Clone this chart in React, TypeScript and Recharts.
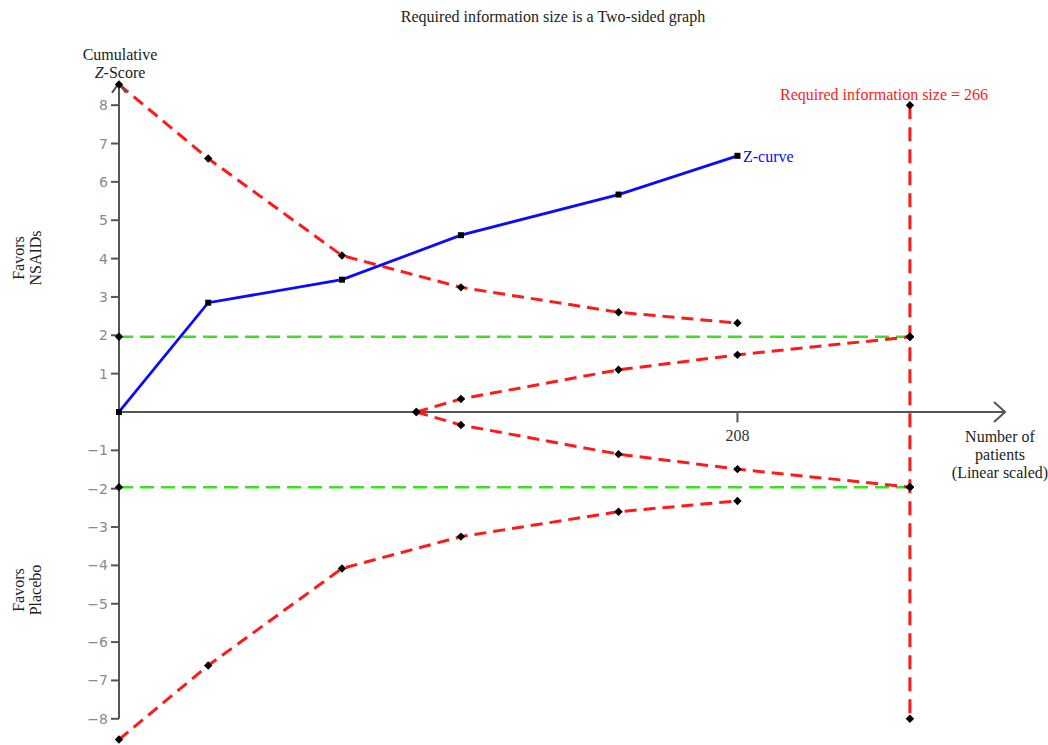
import { ComposedChart, Line, XAxis, YAxis, ReferenceLine, ReferenceDot } from "recharts";

// patients (linear scaled) where each interim analysis sits
const looks = [0, 30, 75, 115, 168, 208];
const zCurve = [0, 2.85, 3.45, 4.61, 5.67, 6.68];
const upperBound = [8.54, 6.61, 4.08, 3.25, 2.6, 2.32];
const lowerBound = [-8.54, -6.61, -4.08, -3.25, -2.6, -2.32];

const futilityX = [100, 115, 168, 208, 266];
const futilityUpper = [0, 0.34, 1.1, 1.49, 1.96];
const futilityLower = [0, -0.34, -1.1, -1.49, -1.96];

const ris = 266;
const risZ = [8, 1.96, -1.96, -8];
const conventional = 1.96;
const xTicks = [208];
const yTicks = [-8, -7, -6, -5, -4, -3, -2, -1, 1, 2, 3, 4, 5, 6, 7, 8];

const zip = (xs: number[], ys: number[]) => xs.map((x, i) => ({ x, z: ys[i] }));

const zData = zip(looks, zCurve);
const upperData = zip(looks, upperBound);
const lowerData = zip(looks, lowerBound);
const futUpData = zip(futilityX, futilityUpper);
const futLoData = zip(futilityX, futilityLower);
const risData = risZ.map((z) => ({ x: ris, z }));
const greenUp = [{ x: 0, z: conventional }, { x: ris, z: conventional }];
const greenLo = [{ x: 0, z: -conventional }, { x: ris, z: -conventional }];

const RED = "#ff1a1a";
const GREEN = "#3fe024";
const BLUE = "#0a0aff";
const AXIS = "#555";
const SERIF = "'Liberation Serif', 'DejaVu Serif', serif";

function diamond(p: any) {
  const { cx, cy, index } = p;
  if (cx == null || cy == null) return <g key={`n-${index}`} />;
  const r = 4.2;
  return (
    <path
      key={`d-${index}-${cx}-${cy}`}
      d={`M${cx},${cy - r}L${cx + r},${cy}L${cx},${cy + r}L${cx - r},${cy}Z`}
      fill="#000"
    />
  );
}

function square(p: any) {
  const { cx, cy, index } = p;
  if (cx == null || cy == null) return <g key={`n-${index}`} />;
  return <rect key={`s-${index}`} x={cx - 3} y={cy - 3} width={6} height={6} fill="#000" />;
}

export default function App() {
  return (
    <div style={{ position: "relative", width: 1048, height: 745, background: "#fff" }}>
      <style>{`body{margin:0}`}</style>
      <ComposedChart width={1048} height={745} margin={{ top: 74.5, right: 37, bottom: 3.2, left: 0 }}>
        <XAxis type="number" dataKey="x" domain={[0, 300]} hide />
        <YAxis
          type="number"
          dataKey="z"
          width={119}
          domain={[-8.6, 8.8]}
          ticks={yTicks}
          interval={0}
          axisLine={false}
          tickLine={{ stroke: AXIS, strokeWidth: 2 }}
          tickSize={8}
          tickMargin={3}
          tickFormatter={(v) => (v < 0 ? `\u2212${-v}` : `${v}`)}
          tick={{ fill: "#8a8a8a", fontSize: 14, fontFamily: "'DejaVu Sans', sans-serif" }}
        />

        {/* axes */}
        <ReferenceLine segment={[{ x: 0, y: -8 }, { x: 0, y: 8.58 }]} stroke={AXIS} strokeWidth={2} />
        <ReferenceLine segment={[{ x: 0, y: 0 }, { x: 298, y: 0 }]} stroke={AXIS} strokeWidth={2} />
        <ReferenceDot
          x={298}
          y={0}
          shape={(p: any) => (
            <path d={`M${p.cx - 11},${p.cy - 10}L${p.cx},${p.cy}L${p.cx - 11},${p.cy + 10}`} fill="none" stroke={AXIS} strokeWidth={2} />
          )}
        />
        <ReferenceDot
          x={0}
          y={8.58}
          shape={(p: any) => (
            <path d={`M${p.cx - 7},${p.cy + 10}L${p.cx},${p.cy}L${p.cx + 7},${p.cy + 10}`} fill="none" stroke={AXIS} strokeWidth={2} />
          )}
        />
        {xTicks.map((t) => (
          <ReferenceLine key={`t${t}`} segment={[{ x: t, y: 0 }, { x: t, y: -0.27 }]} stroke={AXIS} strokeWidth={2} />
        ))}
        {xTicks.map((t) => (
          <ReferenceDot
            key={`l${t}`}
            x={t}
            y={-0.27}
            shape={(p: any) => (
              <text x={p.cx} y={p.cy + 19} textAnchor="middle" fontFamily={SERIF} fontSize={16} fill="#333">
                {t}
              </text>
            )}
          />
        ))}

        {/* conventional boundaries */}
        <Line data={greenUp} dataKey="z" stroke={GREEN} strokeWidth={2.5} strokeDasharray="14 7" dot={diamond} isAnimationActive={false} />
        <Line data={greenLo} dataKey="z" stroke={GREEN} strokeWidth={2.5} strokeDasharray="14 7" dot={diamond} isAnimationActive={false} />

        {/* monitoring and futility boundaries */}
        <Line data={upperData} dataKey="z" stroke={RED} strokeWidth={3} strokeDasharray="12 7" dot={diamond} isAnimationActive={false} />
        <Line data={lowerData} dataKey="z" stroke={RED} strokeWidth={3} strokeDasharray="12 7" dot={diamond} isAnimationActive={false} />
        <Line data={futUpData} dataKey="z" stroke={RED} strokeWidth={3} strokeDasharray="12 7" dot={diamond} isAnimationActive={false} />
        <Line data={futLoData} dataKey="z" stroke={RED} strokeWidth={3} strokeDasharray="12 7" dot={diamond} isAnimationActive={false} />
        <Line data={risData} dataKey="z" stroke={RED} strokeWidth={3} strokeDasharray="14 8" dot={diamond} isAnimationActive={false} />

        {/* Z-curve */}
        <Line data={zData} dataKey="z" stroke={BLUE} strokeWidth={2.8} dot={square} activeDot={false} isAnimationActive={false} />
      </ComposedChart>

      <svg width={1048} height={745} style={{ position: "absolute", left: 0, top: 0, pointerEvents: "none" }}>
        <g fontFamily={SERIF} fontSize={16} fill="#222">
          <text x={553} y={22} textAnchor="middle">Required information size is a Two-sided graph</text>
          <text x={120} y={60} textAnchor="middle">Cumulative</text>
          <text x={120} y={78} textAnchor="middle">
            <tspan fontStyle="italic">Z</tspan>-Score
          </text>
          <g transform="translate(24,258) rotate(-90)">
            <text x={0} y={0} textAnchor="middle">Favors</text>
            <text x={0} y={17} textAnchor="middle">NSAIDs</text>
          </g>
          <g transform="translate(24,590) rotate(-90)">
            <text x={0} y={0} textAnchor="middle">Favors</text>
            <text x={0} y={17} textAnchor="middle">Placebo</text>
          </g>
          <text x={1000} y={442} textAnchor="middle">Number of</text>
          <text x={1000} y={460} textAnchor="middle">patients</text>
          <text x={1000} y={478} textAnchor="middle">(Linear scaled)</text>
        </g>
        <text x={884} y={100} textAnchor="middle" fontFamily={SERIF} fontSize={16} fill={RED}>
          Required information size = 266
        </text>
        <text x={743} y={162} fontFamily={SERIF} fontSize={16} fill={BLUE}>
          Z-curve
        </text>
      </svg>
    </div>
  );
}
